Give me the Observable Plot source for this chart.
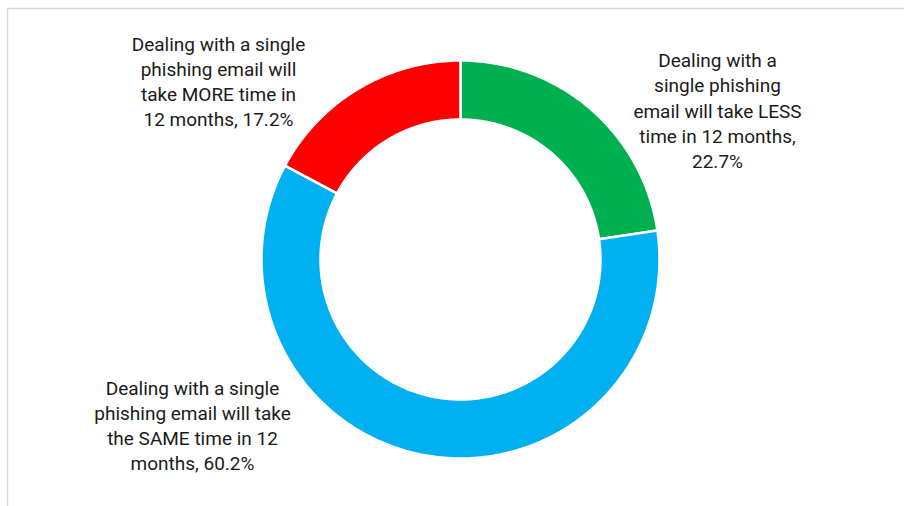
<!DOCTYPE html>
<html>
<head>
<meta charset="utf-8">
<script src="https://cdn.jsdelivr.net/npm/d3@7"></script>
<script src="https://cdn.jsdelivr.net/npm/@observablehq/plot@0.6"></script>
<style>
  html, body { margin: 0; padding: 0; background: #fff; }
</style>
</head>
<body>
<div id="chart"></div>
<script>
// Data
const categories = [
  "Dealing with a single phishing email will take LESS time in 12 months",
  "Dealing with a single phishing email will take the SAME time in 12 months",
  "Dealing with a single phishing email will take MORE time in 12 months"
];
const values = [22.7, 60.2, 17.2];
const labels = [
  "Dealing with a\nsingle phishing\nemail will take LESS\ntime in 12 months,\n22.7%",
  "Dealing with a single\nphishing email will take\nthe SAME time in 12\nmonths, 60.2%",
  "Dealing with a single\nphishing email will\ntake MORE time in\n12 months, 17.2%"
];
const colors = ["#00B050", "#00B0F0", "#FF0000"];

// Layout (pixels)
const W = 904, H = 506;
const cx = 460, cy = 259, rOuter = 199, rInner = 140;
const labelPos = [[717, 109], [192, 424], [218, 80]];

// Build arc polygons from the data via d3.pie
const arcs = d3.pie().sort(null).value(d => d)(values);
const polyPts = [];
arcs.forEach((a, i) => {
  const n = Math.max(8, Math.ceil((a.endAngle - a.startAngle) * 60));
  const outer = d3.range(n + 1).map(k => a.startAngle + (a.endAngle - a.startAngle) * k / n);
  outer.forEach(t => polyPts.push({cat: categories[i], x: cx + rOuter * Math.sin(t), y: cy - rOuter * Math.cos(t)}));
  outer.slice().reverse().forEach(t => polyPts.push({cat: categories[i], x: cx + rInner * Math.sin(t), y: cy - rInner * Math.cos(t)}));
});
const labelData = labels.map((t, i) => ({text: t, x: labelPos[i][0], y: labelPos[i][1]}));

const chart = Plot.plot({
  width: W,
  height: H,
  margin: 0,
  x: {domain: [0, W], range: [0, W], axis: null},
  y: {domain: [0, H], range: [0, H], axis: null},
  color: {domain: categories, range: colors},
  style: {background: "#fff"},
  marks: [
    Plot.ruleY([8], {x1: 7, x2: W, stroke: "#d9d9d9", strokeWidth: 1.5}),
    Plot.ruleX([7], {y1: 8, y2: H, stroke: "#d9d9d9", strokeWidth: 1.5}),
    Plot.line(polyPts, {x: "x", y: "y", z: "cat", fill: "cat", stroke: "#fff", strokeWidth: 2.5, curve: "linear-closed"}),
    Plot.text(labelData, {x: "x", y: "y", text: "text", fontSize: 19, lineHeight: 1.32, fill: "#1a1a1a", fontFamily: "Roboto, sans-serif", textAnchor: "middle", lineAnchor: "middle"})
  ]
});
document.getElementById("chart").appendChild(chart);
</script>
</body>
</html>
